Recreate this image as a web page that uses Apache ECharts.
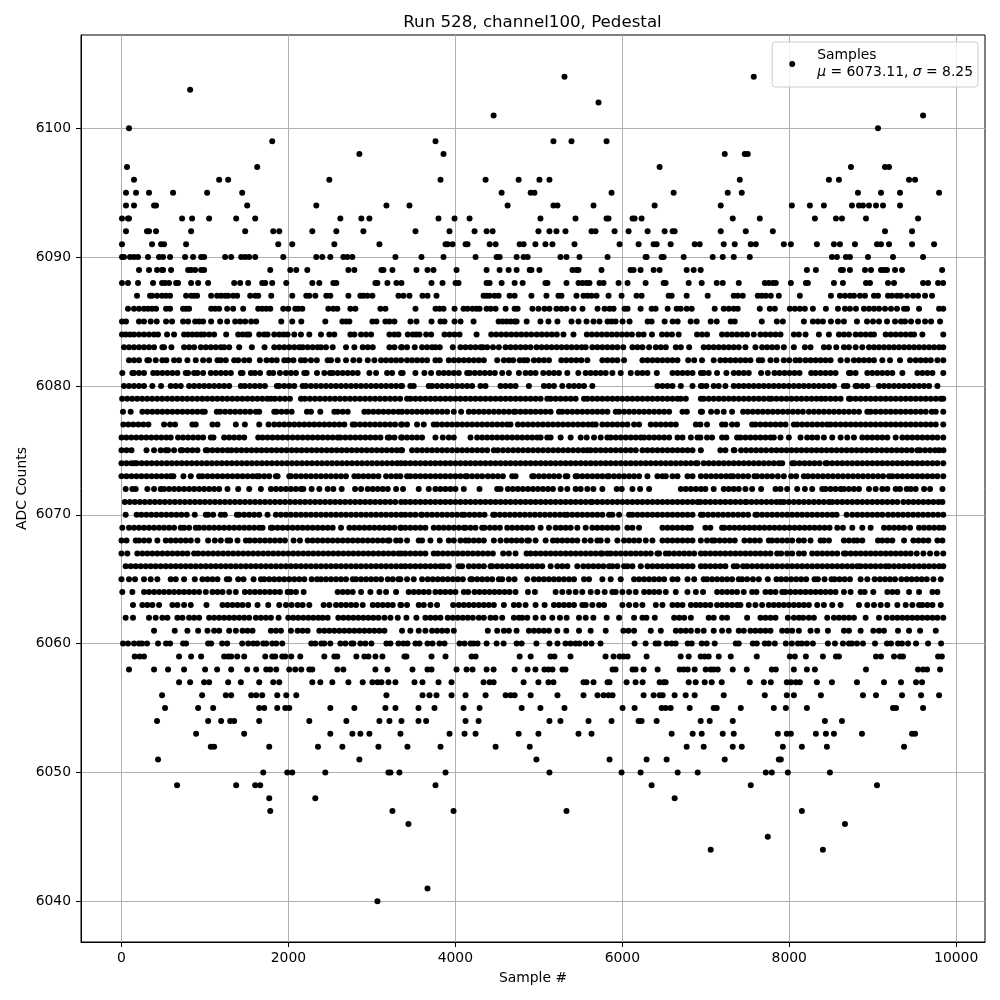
<!DOCTYPE html><html><head><meta charset="utf-8"><style>html,body{margin:0;padding:0;background:#fff}#c{width:1000px;height:1000px}</style><script src="https://cdn.jsdelivr.net/npm/echarts@6/dist/echarts.min.js"></script></head><body><div id="c"></div><script>
const xTicks=[0,2000,4000,6000,8000,10000];
const yTicks=[6040,6050,6060,6070,6080,6090,6100];
const r6104=[5307,7575];
const r6103=[822];
const r6102=[5715];
const r6101=[4458,9603];
const r6100=[90,9063];
const r6099=[1806,3762,5175,5391,5811];
const r6098=[2850,3858,7227,7467,7503];
const r6097=[66,1626,6447,8739,9147,9195];
const r6096=[150,1170,1278,2490,3822,4362,4758,5007,5127,7407,8475,8595,9435,9507];
const r6095=[54,174,330,618,1026,1446,4554,4902,4947,5871,6615,7263,7431,8823,9099,9327,9795];
const r6094=[54,150,390,414,1506,2334,3174,3450,4626,5175,5223,5655,6387,7179,8031,8247,8415,8751,8835,8883,8955,9039,9123,9327];
const r6093=[6,78,90,726,846,1050,1374,1602,2622,2874,2970,3798,3990,4170,5019,5439,5811,5835,6123,6147,6231,7323,7647,8307,8559,8631,8919,9543];
const r6092=[54,306,330,414,834,1482,1818,1890,2286,2574,2898,3522,3930,4230,4374,4446,4995,5127,5211,5319,5631,5679,5907,6075,6303,6507,6603,6627,7179,7479,7803,9147,9471];
const r6091=[6,366,474,510,774,1878,2046,2550,3090,3882,3906,3966,4122,4146,4410,4482,4770,4818,4959,5079,5163,5427,5967,6195,6375,6411,6579,6867,6927,7215,7347,7539,7599,7935,8019,8331,8535,8607,8787,9051,9099,9195,9471,9735];
const r6090=[6,30,102,150,198,318,450,498,582,762,858,954,990,1242,1314,1434,1482,1530,1602,1938,2334,2406,2502,2658,2706,2766,3282,3594,3858,4242,4494,4530,4734,4818,4866,5259,5331,5487,5823,6279,6291,6471,6495,6735,7083,7203,7335,7527,8511,8571,8679,8727,8943,9243,9603];
const r6089=[210,330,426,486,498,594,798,834,882,954,990,1782,2022,2094,2226,2718,2790,3114,3138,3246,3534,3666,3738,4014,4374,4530,4638,4734,4890,4911,5007,5403,5451,5475,5751,6099,6135,6219,6375,6447,6771,6855,6939,8211,8319,8619,8643,8727,8907,8979,9099,9135,9171,9267,9351,9831];
const r6088=[6,78,198,378,486,522,570,654,678,834,918,1038,1350,1422,1518,1686,1722,1806,1974,2286,2370,2538,2574,3042,3066,3186,3294,3354,3714,3846,4002,4038,4374,4410,4554,4710,4806,5079,5103,5331,5475,5523,5571,5607,5727,5775,5955,6063,6279,6495,6519,6795,6951,7131,7203,7395,7707,7755,7803,7839,8019,8199,8223,8535,8643,8919,8967,9183,9255,9603,9663,9783,9843];
const r6087=[186,342,366,426,486,534,582,774,834,870,906,1074,1146,1194,1242,1278,1338,1386,1542,1602,1638,1794,2046,2214,2250,2322,2454,2502,2718,2862,2898,2946,3006,3318,3378,3450,3606,3666,3774,4338,4374,4410,4470,4518,4650,4710,4911,5091,5235,5271,5451,5535,5583,5631,5691,5835,5991,6171,6231,6555,6591,6771,7023,7335,7383,7443,7623,7671,7719,7779,7875,8127,8499,8607,8667,8727,8775,8847,8907,9015,9063,9183,9231,9291,9339,9411,9483,9543,9627,9711];
const r6086=[78,150,210,270,318,366,414,534,582,738,774,810,1074,1122,1170,1266,1338,1458,1638,1686,1734,1782,1938,1998,2082,2118,2166,2478,2538,2586,2742,2802,3102,3162,3522,3762,3810,3858,3990,4098,4146,4206,4254,4290,4374,4422,4482,4602,4710,4746,4923,4995,5067,5127,5211,5271,5331,5415,5523,5703,5787,5847,5895,6027,6063,6219,6351,6399,6543,6651,6699,6771,6831,7107,7215,7275,7335,7383,7647,7767,7827,8007,8067,8127,8187,8283,8439,8583,8667,8727,8799,8895,8955,9015,9075,9147,9219,9291,9375,9411,9555,9795,9845];
const r6085=[6,54,210,270,350,422,534,606,738,798,882,930,978,1074,1182,1266,1362,1422,1482,1554,1614,1914,2046,2154,2442,2646,2690,2730,3006,3054,3162,3210,3270,3462,3534,3714,3822,3870,3990,4062,4218,4518,4566,4614,4662,4710,4734,4854,5019,5115,5223,5391,5475,5571,5655,5727,5823,5871,5919,6003,6087,6303,6351,6507,6603,6663,6819,6891,7059,7131,7299,7347,7671,7851,7923,8175,8283,8343,8403,8499,8583,8655,8811,8931,9003,9075,9171,9267,9339,9387,9459,9543,9627,9699,9807];
const r6084=[6,50,102,150,210,270,330,390,438,546,630,750,798,850,902,950,990,1050,1110,1254,1398,1450,1498,1530,1650,1710,1750,1830,1890,1942,1990,2070,2150,2250,2390,2490,2550,2742,2790,2870,2930,2990,3210,3270,3318,3430,3490,3530,3570,3650,3710,3870,3930,3990,4050,4254,4430,4490,4550,4610,4670,4730,4790,4850,4910,4975,5035,5095,5155,5215,5295,5415,5575,5635,5695,5755,5815,5875,5935,5995,6055,6115,6195,6255,6355,6475,6535,6595,6675,6895,6955,7015,7195,7255,7315,7375,7435,7495,7575,7655,7715,7775,7835,7895,8055,8115,8195,8355,8475,8595,8655,8715,8795,8855,8915,8975,9015,9155,9215,9275,9335,9395,9455,9495,9595,9845];
const r6083=[30,90,150,210,270,330,390,490,510,598,750,810,870,950,1010,1070,1130,1190,1230,1290,1410,1562,1714,1830,1890,1950,2010,2070,2130,2170,2230,2290,2350,2390,2450,2530,2690,2790,2890,2950,3010,3210,3270,3350,3361,3421,3513,3601,3661,3721,3761,3813,3969,4061,4121,4181,4241,4301,4329,4381,4451,4521,4601,4661,4721,4781,4841,4901,4973,5033,5093,5153,5213,5273,5333,5393,5453,5513,5561,5641,5701,5761,5821,5881,5941,6011,6121,6181,6241,6321,6401,6461,6521,6641,6701,6801,6975,7035,7095,7155,7215,7275,7335,7395,7475,7595,7675,7735,7795,7855,7935,8055,8187,8255,8415,8475,8563,8655,8715,8795,8875,8955,9015,9075,9135,9195,9255,9315,9375,9435,9495,9555,9615,9675,9735,9795,9845];
const r6082=[90,150,210,310,330,410,490,538,630,690,790,890,978,1050,1150,1190,1250,1350,1398,1470,1530,1658,1738,1800,1860,1950,1998,2060,2150,2198,2270,2340,2470,2510,2590,2690,2778,2850,2950,3030,3110,3170,3230,3290,3350,3421,3481,3541,3601,3661,3761,3813,3921,3981,4041,4101,4161,4221,4281,4341,4501,4581,4641,4693,4771,4821,4861,4941,5001,5061,5121,5269,5329,5389,5449,5509,5581,5761,5821,5881,5941,6021,6241,6301,6361,6421,6481,6541,6601,6661,6789,6861,6955,7095,7175,7235,7295,7355,7415,7475,7535,7635,7675,7775,7847,7935,8000,8075,8127,8195,8255,8315,8375,8435,8495,8615,8695,8775,8835,8895,8955,9015,9115,9207,9327,9447,9515,9575,9635,9695,9775,9845];
const r6081=[10,130,150,210,270,380,430,490,550,610,670,770,798,870,910,978,1070,1130,1190,1250,1310,1430,1450,1550,1598,1660,1770,1818,1898,1970,2030,2090,2190,2218,2342,2430,2498,2530,2590,2650,2710,2770,2830,2970,3050,3182,3242,3350,3369,3521,3629,3709,3801,3861,3921,3981,4041,4141,4173,4233,4293,4353,4413,4473,4561,4641,4761,4841,4901,4961,5053,5121,5181,5241,5341,5473,5561,5621,5681,5741,5801,5881,5981,6101,6181,6241,6301,6413,6601,6661,6721,6781,6841,6941,6975,7035,7135,7247,7335,7395,7455,7515,7663,7743,7823,7883,7943,8003,8063,8123,8263,8315,8375,8435,8495,8555,8715,8735,8795,8935,8995,9055,9115,9175,9235,9355,9535,9595,9655,9715,9845];
const r6080=[30,90,150,210,270,370,474,590,650,710,810,870,930,990,1050,1110,1170,1230,1290,1430,1478,1538,1598,1658,1718,1862,1890,1950,2010,2070,2170,2210,2270,2330,2390,2450,2510,2570,2630,2690,2750,2810,2870,2930,2990,3050,3110,3170,3230,3290,3350,3361,3461,3501,3681,3721,3781,3841,3901,3961,4021,4081,4141,4201,4301,4361,4541,4601,4661,4721,4881,5061,5121,5181,5281,5361,5421,5481,5541,5641,6421,6481,6541,6601,6701,6841,6941,6955,7007,7095,7155,7235,7335,7395,7455,7515,7575,7635,7695,7755,7815,7875,7935,7995,8055,8115,8175,8235,8295,8355,8415,8475,8535,8655,8695,8795,8815,8875,8935,9075,9135,9195,9255,9315,9375,9435,9495,9555,9615,9675,9775];
const r6079=[8,68,128,188,248,308,368,428,488,548,608,668,728,788,848,908,968,1028,1088,1148,1208,1268,1328,1388,1448,1508,1568,1628,1688,1748,1790,1838,1898,1958,2018,2150,2198,2258,2318,2378,2438,2498,2558,2618,2678,2738,2798,2858,2918,2978,3038,3098,3158,3218,3278,3338,3421,3461,3521,3581,3641,3701,3761,3821,3881,3941,4001,4061,4121,4181,4241,4301,4361,4421,4481,4541,4601,4661,4721,4781,4841,4901,4961,5021,5101,5141,5201,5261,5321,5381,5441,5541,5581,5641,5701,5761,5821,5881,5941,6001,6061,6121,6181,6241,6301,6361,6421,6481,6541,6601,6661,6701,6761,6941,6975,7035,7095,7155,7215,7275,7335,7395,7455,7515,7575,7635,7695,7755,7787,7847,7907,7967,8027,8087,8147,8207,8267,8327,8383,8435,8495,8555,8615,8715,8735,8795,8855,8915,8975,9035,9095,9155,9215,9275,9335,9395,9455,9515,9575,9635,9695,9755,9815,9845];
const r6078=[18,110,250,310,370,430,490,550,610,670,730,790,850,910,970,998,1142,1182,1242,1302,1362,1422,1482,1542,1610,1650,1830,1858,1918,1978,2038,2222,2270,2382,2550,2590,2650,2710,2910,2958,3018,3078,3138,3198,3258,3318,3361,3421,3481,3541,3601,3661,3721,3781,3841,3901,3981,4069,4161,4221,4281,4341,4401,4461,4521,4581,4641,4701,4721,4781,4841,4901,4961,5021,5081,5141,5241,5281,5341,5401,5461,5521,5581,5641,5701,5761,5821,5921,5961,6021,6081,6141,6201,6261,6321,6381,6441,6501,6561,6721,6773,6941,6955,7063,7135,7215,7315,7447,7503,7563,7623,7683,7743,7803,7863,7923,7983,8043,8103,8163,8235,8295,8355,8415,8475,8535,8595,8655,8715,8775,8835,8935,8975,9035,9095,9155,9215,9275,9335,9395,9455,9515,9575,9635,9707,9755,9845];
const r6077=[22,82,142,202,262,322,510,582,642,850,890,1090,1150,1370,1478,1650,1762,1830,1890,1950,2010,2070,2130,2190,2250,2310,2370,2430,2490,2550,2610,2670,2770,2798,2858,2918,2978,3038,3098,3158,3218,3278,3350,3361,3421,3541,3621,3741,3781,3841,3901,3961,4021,4081,4141,4201,4261,4321,4381,4441,4501,4561,4621,4661,4749,4809,4869,4929,4989,5049,5109,5169,5229,5289,5349,5409,5469,5529,5589,5641,5681,5761,5821,5881,5941,6001,6061,6141,6201,6341,6401,6461,6521,6581,6641,6881,6935,7015,7195,7235,7315,7375,7555,7595,7655,7715,7775,7835,7895,7955,8055,8095,8155,8215,8275,8335,8395,8455,8495,8555,8615,8675,8735,8795,8855,8915,8975,9035,9095,9155,9215,9275,9335,9395,9455,9515,9575,9635,9695,9755,9845];
const r6076=[0,58,118,178,238,298,358,418,478,538,590,678,738,798,858,918,978,1070,1102,1230,1290,1350,1410,1470,1638,1690,1750,1810,1870,1930,1990,2050,2110,2170,2230,2290,2350,2410,2470,2530,2590,2622,2682,2742,2802,2862,2922,2982,3042,3102,3190,3210,3270,3350,3361,3421,3481,3541,3601,3761,3849,3921,3981,4181,4261,4321,4381,4441,4501,4561,4621,4681,4741,4801,4861,4921,4981,5021,5101,5141,5261,5381,5501,5573,5661,5741,5821,5861,5921,5981,6041,6101,6161,6221,6261,6321,6381,6441,6501,6561,6661,6721,6821,6901,6935,7015,7075,7195,7247,7375,7415,7475,7535,7595,7655,7715,7775,7815,7895,7995,8135,8215,8275,8335,8415,8515,8615,8695,8775,8875,8935,8995,9055,9115,9175,9275,9355,9415,9475,9535,9595,9655,9715,9775,9845];
const r6075=[0,60,120,300,390,470,530,558,630,710,730,790,850,910,1010,1030,1090,1150,1210,1270,1318,1378,1438,1498,1558,1618,1678,1738,1798,1858,1918,1978,2038,2098,2158,2218,2278,2338,2398,2458,2518,2578,2638,2698,2758,2818,2878,2938,2998,3058,3118,3178,3238,3298,3350,3361,3481,3541,3601,3661,3721,3781,3841,3901,3961,4021,4081,4141,4201,4261,4321,4381,4461,4509,4571,4631,4691,4751,4811,4871,4931,4991,5051,5111,5171,5231,5291,5351,5411,5471,5531,5581,5621,5681,5741,5801,5861,5921,5981,6041,6101,6161,6241,6301,6361,6421,6481,6541,6601,6661,6721,6781,6841,6941,7175,7235,7335,7343,7423,7483,7543,7603,7663,7723,7787,7847,7907,7967,8027,8087,8147,8207,8267,8327,8387,8447,8507,8567,8627,8687,8747,8807,8867,8927,8987,9047,9107,9167,9227,9287,9347,9407,9467,9535,9567,9627,9687,9747,9795,9847];
const r6074=[0,60,120,158,182,242,302,362,422,482,542,602,662,722,782,842,902,962,1022,1082,1142,1202,1262,1322,1382,1442,1502,1562,1622,1682,1742,1802,1862,1922,1982,2042,2102,2162,2222,2282,2342,2402,2462,2522,2582,2642,2702,2762,2822,2882,2942,3002,3062,3122,3182,3242,3302,3350,3401,3461,3521,3581,3641,3701,3761,3821,3881,3941,4001,4061,4121,4181,4241,4301,4361,4421,4481,4541,4601,4661,4721,4781,4841,4901,4961,5021,5081,5141,5201,5261,5321,5381,5441,5501,5561,5621,5681,5741,5801,5861,5921,5981,6041,6101,6161,6221,6281,6341,6401,6461,6521,6581,6641,6701,6761,6821,6881,6901,6975,7035,7095,7155,7215,7275,7335,7395,7455,7515,7575,7635,7695,7755,7815,7875,7915,8035,8063,8123,8183,8243,8303,8363,8435,8455,8515,8575,8635,8695,8755,8815,8875,8935,8995,9055,9115,9175,9235,9295,9355,9415,9475,9535,9595,9655,9715,9775,9845];
const r6073=[0,60,120,180,240,300,360,420,480,540,590,622,742,830,930,970,1030,1090,1150,1210,1270,1330,1390,1450,1510,1570,1622,1650,1710,1770,1850,1870,2010,2030,2090,2150,2210,2270,2330,2390,2450,2510,2570,2630,2690,2790,2838,2898,2958,3018,3078,3170,3230,3290,3341,3421,3461,3521,3581,3641,3701,3761,3821,3881,3941,4001,4061,4121,4141,4201,4261,4321,4389,4449,4509,4569,4681,4721,4921,4941,5001,5061,5121,5181,5241,5321,5341,5441,5461,5521,5581,5641,5701,5761,5821,5841,5901,5961,6021,6081,6141,6201,6301,6421,6481,6521,6601,6661,6781,6841,6941,7003,7063,7123,7183,7243,7295,7327,7387,7447,7507,7583,7615,7675,7735,7795,7863,7935,8023,8083,8175,8223,8283,8343,8403,8463,8523,8583,8643,8703,8763,8823,8883,8943,9003,9063,9123,9195,9235,9295,9355,9415,9475,9535,9595,9655,9715,9775,9845];
const r6072=[50,130,170,310,390,470,510,570,630,690,750,810,870,930,990,1050,1110,1170,1270,1398,1530,1670,1790,1850,1910,1970,2030,2090,2150,2178,2278,2370,2470,2538,2638,2798,2870,2950,3010,3070,3130,3190,3290,3373,3561,3681,3761,3821,3881,3941,4001,4101,4289,4501,4541,4629,4689,4749,4809,4869,4929,4989,5049,5109,5169,5261,5341,5441,5501,5581,5653,5761,5933,5993,6121,6213,6321,6701,6761,6821,6881,6941,6995,7095,7215,7275,7335,7395,7475,7555,7663,7835,7895,7975,8095,8187,8275,8395,8435,8495,8555,8615,8655,8715,8775,8835,8955,9035,9115,9175,9275,9327,9407,9455,9515,9615,9687,9835];
const r6071=[40,100,160,220,280,340,400,460,520,580,640,700,760,820,880,940,1000,1060,1120,1180,1240,1300,1360,1420,1480,1540,1600,1660,1720,1780,1840,1900,1960,2020,2080,2140,2200,2260,2320,2380,2440,2500,2560,2620,2680,2740,2800,2860,2920,2980,3040,3100,3160,3220,3280,3350,3401,3461,3521,3581,3641,3701,3761,3821,3881,3941,4001,4061,4121,4181,4241,4301,4361,4421,4481,4541,4601,4661,4721,4781,4841,4901,4961,5021,5081,5141,5201,5261,5321,5381,5441,5501,5561,5621,5641,5701,5761,5821,5881,5941,6001,6061,6121,6181,6241,6301,6361,6421,6481,6541,6601,6661,6721,6781,6841,6901,6935,6995,7055,7115,7175,7235,7295,7355,7415,7475,7487,7547,7607,7667,7727,7787,7847,7895,7935,7995,8055,8115,8175,8235,8295,8355,8415,8475,8515,8575,8635,8695,8755,8815,8875,8935,8995,9055,9115,9175,9235,9295,9367,9427,9487,9547,9607,9667,9727,9787,9835];
const r6070=[50,182,238,298,358,418,478,538,598,658,718,782,878,1010,1038,1098,1190,1238,1382,1410,1470,1530,1590,1650,1750,1850,1910,1970,2030,2090,2150,2210,2270,2330,2390,2450,2510,2570,2630,2690,2750,2810,2870,2930,2990,3050,3110,3170,3230,3290,3350,3401,3461,3521,3589,3601,3661,3721,3781,3841,3901,3961,4021,4081,4109,4169,4229,4289,4349,4453,4473,4533,4593,4653,4713,4773,4833,4893,4953,5013,5073,5133,5193,5253,5309,5341,5401,5461,5521,5581,5641,5701,5761,5841,5881,5961,6081,6121,6181,6241,6301,6361,6421,6481,6541,6601,6661,6721,6781,6841,6941,6967,7027,7087,7147,7207,7267,7327,7387,7447,7507,7595,7615,7675,7735,7795,7855,7915,7975,8035,8095,8155,8215,8275,8335,8395,8455,8515,8567,8687,8755,8815,8875,8935,8995,9055,9115,9183,9243,9303,9363,9423,9483,9543,9603,9663,9723,9783,9845];
const r6069=[10,90,150,210,270,330,390,450,510,570,630,710,750,810,890,930,990,1050,1110,1170,1230,1290,1350,1410,1470,1530,1590,1650,1690,1790,1810,1870,1930,1990,2050,2110,2170,2230,2290,2350,2410,2470,2530,2630,2730,2790,2850,2910,2970,3030,3090,3150,3210,3270,3350,3341,3401,3461,3521,3581,3641,3741,3801,3861,3921,3981,4041,4101,4121,4181,4241,4321,4349,4413,4473,4533,4621,4681,4741,4801,4861,4921,5021,5121,5201,5261,5321,5381,5461,5561,5641,5701,5761,5821,5881,5941,6061,6121,6201,6481,6541,6601,6661,6721,6781,6821,6995,7055,7195,7223,7283,7343,7403,7463,7523,7583,7643,7703,7763,7823,7883,7943,8003,8063,8123,8183,8243,8303,8363,8423,8483,8575,8643,8755,8875,8975,9135,9195,9255,9315,9375,9447,9555,9615,9675,9735,9795,9845];
const r6068=[0,60,170,210,270,330,430,530,590,650,710,770,830,910,1038,1118,1190,1270,1302,1390,1490,1538,1598,1658,1718,1778,1838,1898,1958,2062,2138,2230,2290,2350,2410,2470,2530,2590,2650,2710,2770,2830,2890,2950,3010,3070,3130,3190,3210,3290,3341,3421,3561,3601,3701,3813,3921,3981,4061,4121,4161,4221,4281,4341,4461,4541,4613,4673,4733,4793,4861,4881,4961,5081,5169,5221,5281,5341,5401,5461,5549,5621,5701,5741,5821,5941,6021,6081,6141,6201,6281,6361,6481,6541,6601,6661,6721,6781,6841,6941,7015,7075,7107,7167,7227,7287,7347,7463,7527,7587,7647,7755,7795,7855,7915,7975,8035,8115,8175,8255,8375,8415,8475,8655,8715,8775,8815,8875,9063,9115,9175,9235,9375,9487,9547,9607,9667,9775,9835];
const r6067=[0,70,190,250,310,370,430,490,550,610,670,730,790,870,918,978,1038,1098,1158,1218,1278,1338,1398,1458,1518,1578,1638,1698,1758,1818,1878,1938,1998,2058,2118,2178,2238,2298,2358,2418,2478,2538,2598,2658,2718,2778,2838,2898,2958,3018,3078,3138,3198,3258,3318,3350,3401,3461,3521,3581,3641,3741,3789,3849,3909,3969,4029,4089,4149,4209,4269,4329,4389,4449,4573,4641,4721,4853,4901,4961,5021,5081,5141,5201,5261,5321,5381,5441,5501,5561,5621,5681,5741,5761,5821,5861,5921,5981,6041,6101,6161,6221,6281,6341,6421,6441,6521,6561,6621,6681,6741,6801,6861,6941,6995,7055,7115,7175,7235,7295,7355,7415,7475,7535,7595,7655,7715,7775,7855,7903,7975,8035,8115,8175,8275,8335,8395,8455,8515,8575,8655,8675,8735,8795,8855,8915,8975,9035,9095,9155,9215,9275,9335,9395,9455,9527,9607,9687,9767,9845];
const r6066=[50,110,170,230,290,350,410,470,530,590,650,710,770,830,890,950,1010,1070,1130,1190,1250,1310,1370,1430,1490,1550,1610,1670,1730,1790,1850,1910,1970,2030,2090,2150,2210,2270,2330,2390,2450,2510,2570,2630,2690,2750,2810,2870,2930,2990,3050,3110,3170,3230,3290,3350,3401,3461,3521,3581,3641,3701,3761,3821,3861,3921,4041,4081,4161,4221,4281,4341,4421,4441,4501,4561,4621,4681,4741,4801,4861,4921,4981,5041,5141,5221,5281,5341,5461,5533,5593,5653,5713,5773,5841,5881,5941,6021,6061,6121,6221,6301,6361,6421,6481,6541,6601,6661,6721,6781,6841,6941,6995,7055,7115,7175,7235,7335,7375,7447,7495,7555,7615,7675,7735,7795,7855,7915,7975,8035,8095,8155,8215,8275,8335,8395,8455,8515,8575,8635,8695,8755,8815,8855,8915,8975,9035,9095,9155,9195,9255,9315,9375,9435,9495,9555,9615,9675,9735,9795,9845];
const r6065=[0,90,162,270,350,430,590,650,750,878,970,1030,1090,1150,1262,1290,1398,1462,1582,1670,1710,1770,1830,1890,1950,2010,2070,2130,2190,2278,2342,2390,2450,2510,2570,2630,2690,2770,2810,2870,2930,2990,3050,3110,3190,3250,3318,3341,3421,3501,3601,3669,3729,3789,3849,3909,3969,4029,4089,4181,4201,4261,4321,4381,4441,4521,4561,4641,4709,4861,4941,5001,5061,5121,5181,5241,5301,5361,5421,5541,5601,5761,5861,5981,6141,6201,6261,6321,6381,6441,6501,6601,6661,6781,6861,6975,7015,7075,7135,7195,7255,7315,7395,7435,7495,7565,7635,7743,7847,7903,7963,8023,8083,8143,8203,8303,8343,8423,8507,8543,8603,8663,8727,8855,8935,9023,9087,9147,9207,9267,9343,9407,9467,9527,9587,9647,9727,9815];
const r6064=[10,130,270,330,390,450,510,570,630,690,750,810,870,930,1010,1090,1150,1210,1290,1370,1478,1538,1598,1658,1718,1778,1838,1898,1990,2030,2090,2182,2590,2650,2710,2770,2870,2982,3090,3170,3290,3441,3501,3561,3621,3681,3761,3821,3881,3941,4001,4101,4153,4229,4289,4349,4409,4469,4529,4589,4649,4721,4869,4953,5201,5281,5361,5441,5521,5621,5701,5789,5881,5921,6001,6081,6161,6261,6321,6381,6441,6521,6641,6781,6881,6967,7135,7195,7255,7315,7375,7455,7555,7607,7715,7775,7835,7915,7955,8015,8075,8135,8195,8255,8315,8375,8435,8495,8555,8655,8735,8855,8903,9007,9175,9235,9295,9435,9555,9715,9775];
const r6063=[138,250,310,370,450,610,670,750,830,1018,1210,1270,1330,1390,1450,1518,1630,1758,1890,1970,2038,2110,2170,2250,2422,2490,2570,2630,2690,2750,2810,2890,3010,3070,3130,3190,3250,3350,3341,3421,3561,3621,3701,3781,3973,4041,4101,4161,4221,4281,4341,4401,4461,4581,4701,4761,4841,4961,5069,5181,5241,5301,5361,5421,5521,5561,5641,5721,5781,6001,6081,6161,6241,6401,6481,6601,6661,6721,6821,6881,6935,6995,7055,7135,7195,7255,7315,7375,7415,7515,7595,7675,7755,7815,7875,7935,7995,8055,8115,8175,8235,8335,8415,8515,8615,8835,8935,9015,9095,9175,9295,9395,9475,9555,9595,9655,9715,9815];
const r6062=[50,138,330,410,490,550,670,730,810,870,930,1050,1110,1170,1230,1290,1350,1410,1470,1530,1610,1670,1730,1790,1882,1998,2058,2118,2178,2238,2298,2358,2410,2470,2598,2658,2718,2778,2838,2898,2958,3018,3078,3150,3222,3310,3413,3533,3641,3701,3761,3821,3909,3969,4029,4089,4149,4209,4281,4341,4421,4481,4561,4701,4761,4801,4861,4961,5053,5161,5253,5333,5481,5561,5653,5813,5961,6141,6241,6289,6389,6621,6681,6741,6821,7035,7095,7195,7255,7495,7655,7715,7775,7835,7983,8055,8115,8167,8235,8295,8455,8535,8595,8655,8715,8775,8915,9075,9167,9235,9295,9355,9415,9475,9535,9595,9655,9715,9775,9845];
const r6061=[390,638,790,918,1030,1110,1170,1290,1370,1450,1510,1570,1790,1850,1910,2030,2110,2170,2230,2370,2430,2490,2550,2610,2670,2730,2790,2850,2910,2970,3030,3090,3150,3361,3461,3561,3641,3721,3781,3841,3901,3981,4389,4501,4581,4641,4733,4881,4941,5001,5061,5121,5221,5329,5481,5621,5801,6013,6073,6141,6341,6461,6641,6701,6761,6821,6901,6975,7095,7195,7275,7395,7455,7535,7595,7655,7715,7775,7915,7975,8035,8115,8255,8335,8463,8655,8715,8855,9007,9075,9135,9303,9435,9567,9755];
const r6060=[18,78,150,210,246,306,438,534,582,738,774,1038,1074,1206,1266,1446,1518,1578,1626,1698,1734,1806,1854,1926,2274,2322,2394,2430,2502,2622,2682,2754,2778,2862,2922,2994,3174,3222,3318,3378,3426,3522,3570,3666,3726,3810,3870,4050,4110,4182,4218,4266,4374,4494,4578,4734,4794,4971,5127,5223,5319,5379,5439,5487,5559,5631,5739,6147,6279,6399,6435,6531,6591,6639,6783,6831,6951,7011,7107,7359,7395,7563,7611,7707,7755,7827,7959,8031,8103,8151,8211,8283,8463,8547,8643,8715,8751,8811,8883,9027,9171,9219,9303,9351,9423,9519,9663,9819];
const r6059=[158,218,270,690,834,954,1230,1278,1314,1386,1470,1722,1806,1842,1926,1962,2034,2142,2430,2550,2586,2814,2910,2958,3042,3126,3390,3414,3714,3882,4194,4242,4770,4902,5139,5187,5379,5799,5895,5967,6015,6063,6291,6699,6795,6939,6987,7035,7155,7299,7611,8007,8067,8199,8403,8559,8595,9039,9099,9255,9327,9363,9783,9828];
const r6058=[90,390,558,750,1002,1146,1314,1506,1614,1734,1782,1854,2010,2082,2154,2250,2286,2586,2658,3042,3186,3486,3666,3714,4014,4134,4206,4374,4458,4710,4866,4959,5067,5115,5163,5283,5319,5883,5919,6123,6159,6255,6423,6687,6735,6783,6867,6999,7059,7095,7143,7323,7491,7791,7839,8055,8211,8307,8919,9543,9603,9651,9807];
const r6057=[690,822,990,1050,1278,1430,1650,1818,1890,2286,2382,2526,2718,2890,3006,3066,3114,3198,3282,3510,3606,3798,3954,4338,4410,4458,4818,4995,5115,5175,5535,5571,5655,5823,5847,6051,6159,6243,6447,6495,6519,6795,6879,6987,7071,7191,7527,7695,7779,7971,8019,8079,8127,8331,8511,8811,9135,9339,9519,9591];
const r6056=[486,966,1250,1314,1554,1614,1686,1866,1974,2094,3174,3606,3690,3774,3954,4122,4362,4602,4662,4710,4902,5223,5535,5703,5775,5835,5883,6255,6375,6447,6483,6627,6759,6867,7215,7707,7971,8055,8379,8883,9039,9351,9579,9795];
const r6055=[522,918,1098,1650,1710,1866,1962,2010,2502,2790,3162,3282,3558,3750,4098,4290,4794,5019,5307,6003,6147,6471,6519,6579,6807,7095,7131,7419,7815,7959,8211,9243,9279,9603];
const r6054=[426,1038,1194,1302,1350,1650,2250,2694,3090,3210,3354,3558,3650,4122,4278,5127,5259,5595,5871,6195,6231,6411,6939,7047,7323,8427,8631];
const r6053=[894,1470,2502,2766,2862,2970,3342,3930,4110,4242,4758,4995,5475,5631,6591,6843,6951,7203,7335,7863,7971,8019,8319,8439,8535,8871,9471,9507];
const r6052=[1070,1110,1770,2354,2646,3078,3426,3822,4482,4891,6771,6975,7323,7431,7923,8151,8451,9375];
const r6051=[438,2850,4971,5847,6291,6531,7227,7875,7899];
const r6050=[1698,1986,2046,2442,3198,3222,3330,3882,5127,5991,6219,6663,6903,7719,7791,7983,8487];
const r6049=[666,1374,1602,1662,3762,6351,7539,9051];
const r6048=[1770,2322,6627];
const r6047=[1782,3246,3978,5331,8151];
const r6046=[3438,8667];
const r6045=[7743];
const r6044=[7059,8403];
const r6041=[3666];
const r6040=[3066];
const levels=[[6104,r6104],[6103,r6103],[6102,r6102],[6101,r6101],[6100,r6100],[6099,r6099],[6098,r6098],[6097,r6097],[6096,r6096],[6095,r6095],[6094,r6094],[6093,r6093],[6092,r6092],[6091,r6091],[6090,r6090],[6089,r6089],[6088,r6088],[6087,r6087],[6086,r6086],[6085,r6085],[6084,r6084],[6083,r6083],[6082,r6082],[6081,r6081],[6080,r6080],[6079,r6079],[6078,r6078],[6077,r6077],[6076,r6076],[6075,r6075],[6074,r6074],[6073,r6073],[6072,r6072],[6071,r6071],[6070,r6070],[6069,r6069],[6068,r6068],[6067,r6067],[6066,r6066],[6065,r6065],[6064,r6064],[6063,r6063],[6062,r6062],[6061,r6061],[6060,r6060],[6059,r6059],[6058,r6058],[6057,r6057],[6056,r6056],[6055,r6055],[6054,r6054],[6053,r6053],[6052,r6052],[6051,r6051],[6050,r6050],[6049,r6049],[6048,r6048],[6047,r6047],[6046,r6046],[6045,r6045],[6044,r6044],[6041,r6041],[6040,r6040]];
const pts=[];levels.forEach(([v,xs])=>xs.forEach(x=>pts.push([x,v])));
const font='"DejaVu Sans"';
const ax=(name,ticks,min,max,gap,margin)=>({type:'value',name,nameLocation:'middle',nameGap:gap,nameMoveOverlap:false,min,max,
 nameTextStyle:{color:'#000',fontFamily:font,fontSize:13.9},
 axisLine:{show:true,onZero:false,lineStyle:{color:'#000',width:1}},
 axisTick:{show:true,length:5,customValues:ticks,lineStyle:{color:'#000',width:1}},
 axisLabel:{customValues:ticks,color:'#000',fontFamily:font,fontSize:13.9,margin,formatter:v=>String(v),showMinLabel:true,showMaxLabel:true},
 splitLine:{show:true,lineStyle:{color:'#b0b0b0',width:1}}});
const ch=echarts.init(document.getElementById('c'),null,{renderer:'canvas'});
ch.setOption({animation:false,backgroundColor:'#fff',
 title:{text:'Run 528, channel100, Pedestal',left:527.5,top:9,textAlign:'center',textStyle:{color:'#000',fontFamily:font,fontSize:16.67,fontWeight:'normal'}},
 grid:{left:81,right:15,top:35,bottom:58,show:true,borderColor:'#000',borderWidth:1,backgroundColor:'transparent'},
 xAxis:ax('Sample #',xTicks,-485,10345,29,9),
 yAxis:ax('ADC Counts',yTicks,6036.84,6107.24,52,10),
 legend:{show:true,right:22,top:42,orient:'vertical',align:'left',padding:[5,5,6,17],backgroundColor:'rgba(255,255,255,0.8)',borderColor:'#ccc',borderWidth:1,borderRadius:3,itemWidth:40,itemHeight:6,itemGap:0,
  data:[{name:'Samples',icon:'circle'}],
  formatter:()=>'Samples\n{i|μ} = 6073.11, {i|σ} = 8.25',
  textStyle:{color:'#000',fontFamily:font,fontSize:13.9,lineHeight:17,rich:{i:{fontStyle:'italic',fontFamily:font,fontSize:13.9,color:'#000'}}}},
 series:[{name:'Samples',type:'scatter',data:pts,symbol:'circle',symbolSize:6,itemStyle:{color:'#000',opacity:1},z:3}]});
</script></body></html>
